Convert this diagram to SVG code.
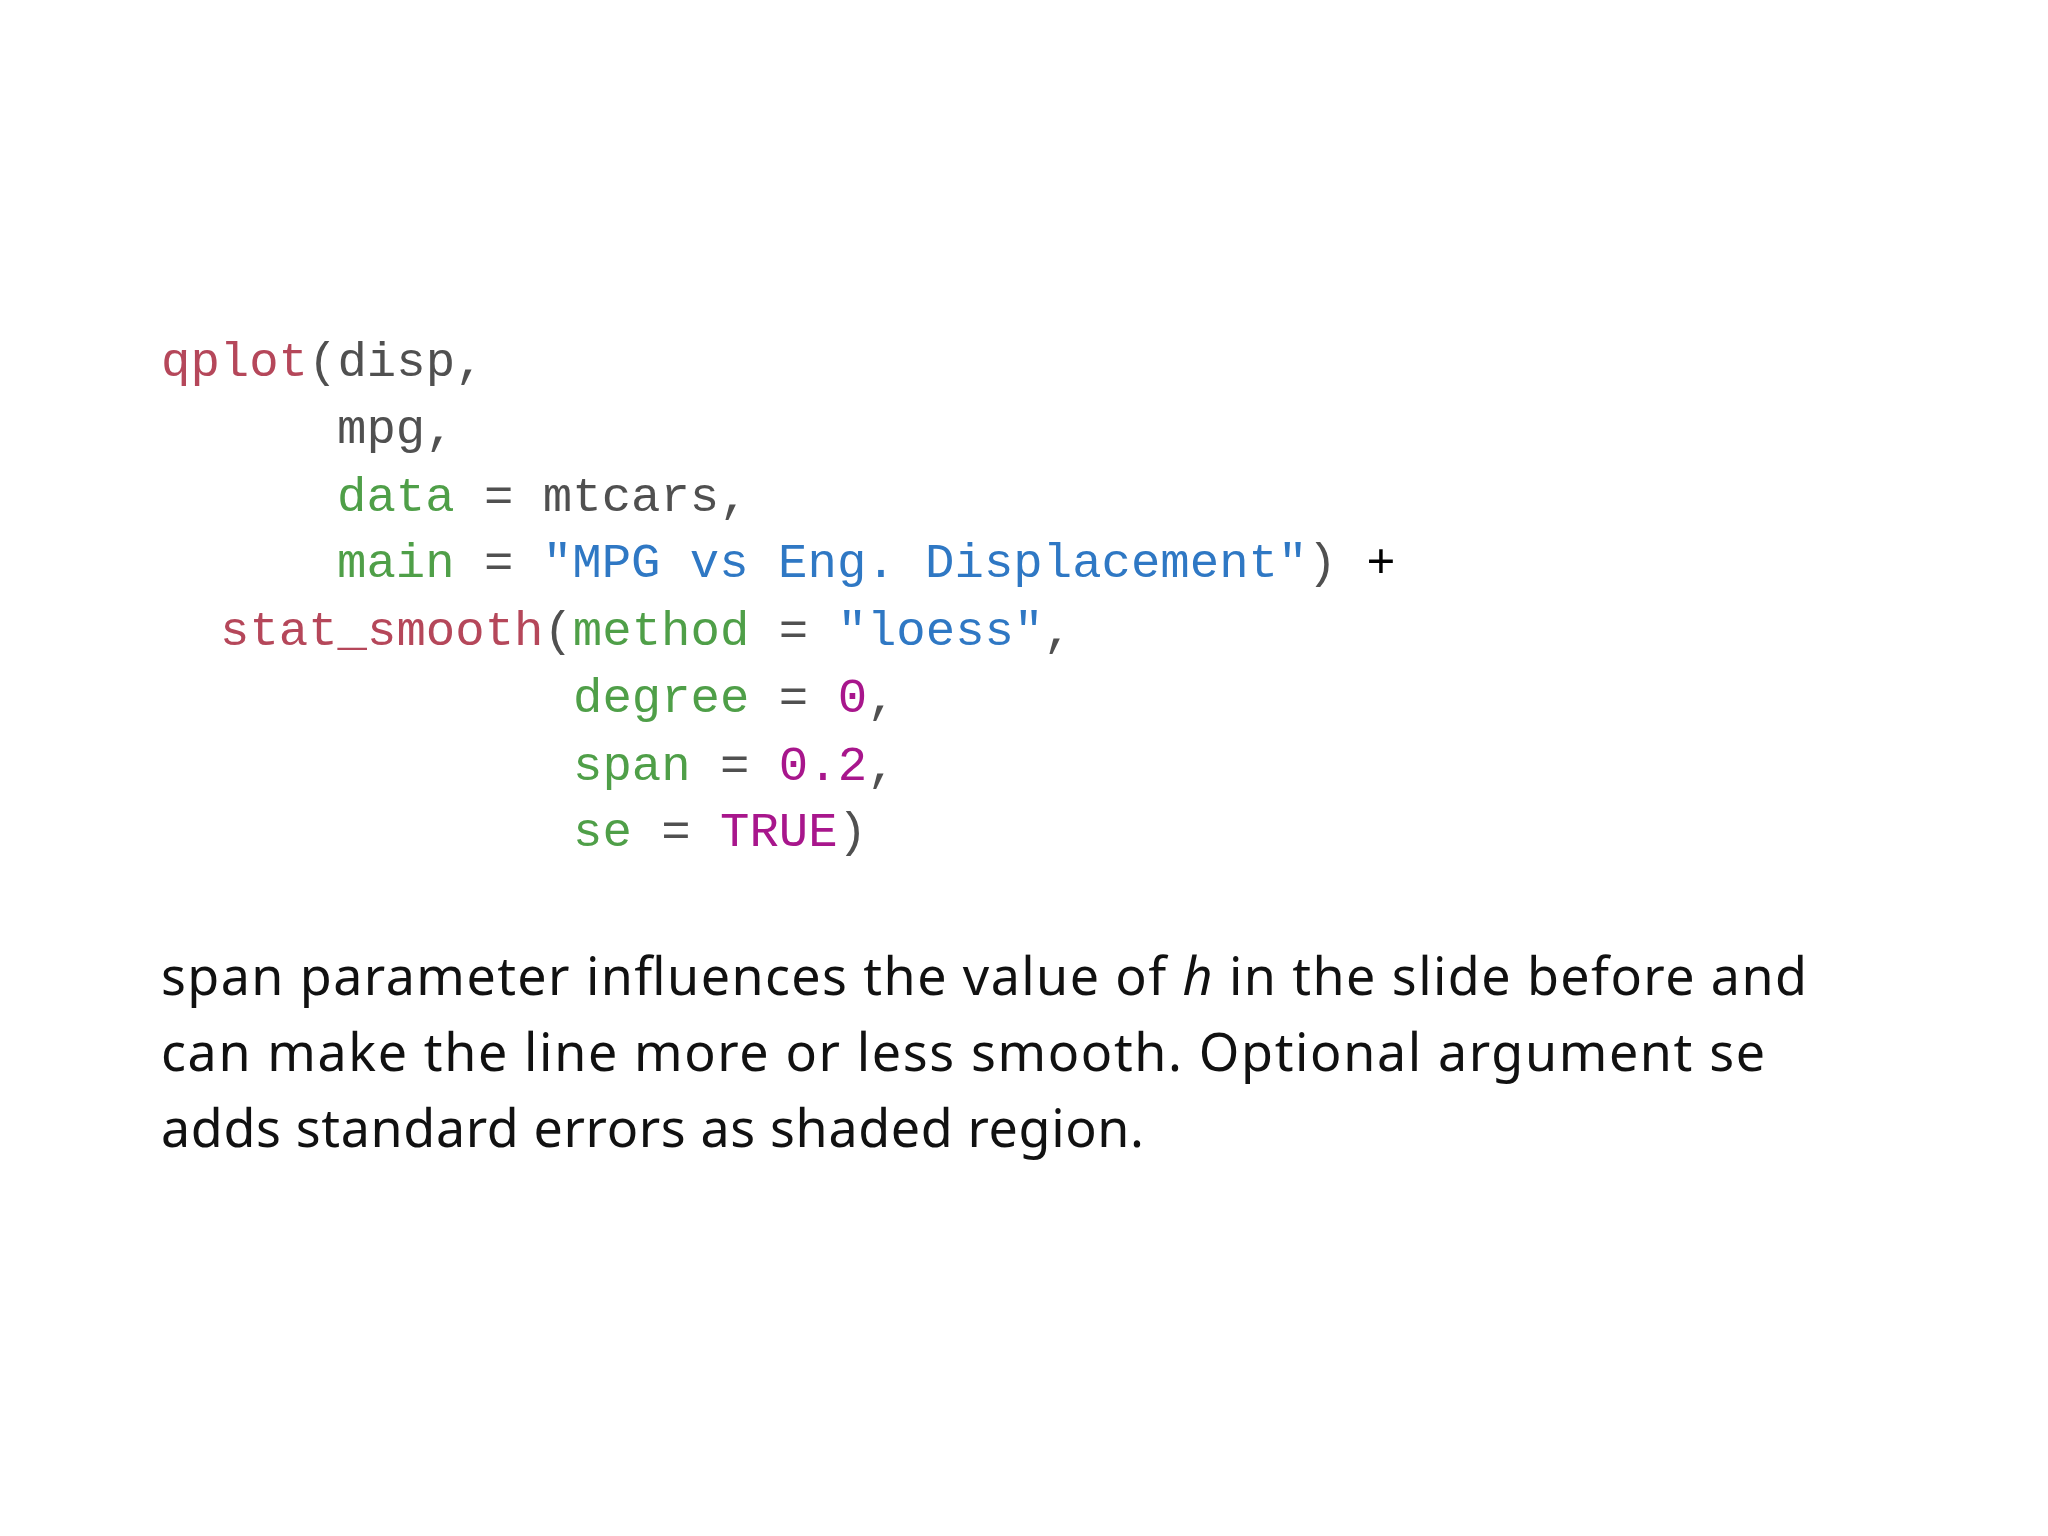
<svg xmlns="http://www.w3.org/2000/svg" width="2048" height="1536" viewBox="0 0 2048 1536">
<style>
.c{font-family:"Liberation Mono",monospace;font-size:49px}
.f{fill:#b5475a}.d{fill:#505050}.a{fill:#4f9f48}.s{fill:#2f78c4}.n{fill:#a8168c}.k{fill:#000}
.t{font-family:"Noto Sans","Liberation Sans",sans-serif;font-size:52px;fill:#111}
</style>
<rect width="2048" height="1536" fill="#fff"/>
<g id="code" class="c" xml:space="preserve">
<text x="161" y="376"><tspan class="f">qplot</tspan><tspan class="d">(disp,</tspan></text>
<text x="337" y="443"><tspan class="d">mpg,</tspan></text>
<text x="337" y="511"><tspan class="a">data</tspan><tspan class="d"> = mtcars,</tspan></text>
<text x="337" y="577"><tspan class="a">main</tspan><tspan class="d"> = </tspan><tspan class="s">"MPG vs Eng. Displacement"</tspan><tspan class="d">)</tspan><tspan class="k"> +</tspan></text>
<text x="220" y="645"><tspan class="f">stat_smooth</tspan><tspan class="d">(</tspan><tspan class="a">method</tspan><tspan class="d"> = </tspan><tspan class="s">"loess"</tspan><tspan class="d">,</tspan></text>
<text x="573" y="712"><tspan class="a">degree</tspan><tspan class="d"> = </tspan><tspan class="n">0</tspan><tspan class="d">,</tspan></text>
<text x="573" y="780"><tspan class="a">span</tspan><tspan class="d"> = </tspan><tspan class="n">0.2</tspan><tspan class="d">,</tspan></text>
<text x="573" y="846"><tspan class="a">se</tspan><tspan class="d"> = </tspan><tspan class="n">TRUE</tspan><tspan class="d">)</tspan></text>
</g>
<g id="para" class="t">
<text x="161" y="995" textLength="1646">span parameter influences the value of <tspan font-style="italic">h</tspan> in the slide before and</text>
<text x="161" y="1071" textLength="1604">can make the line more or less smooth.  Optional argument se</text>
<text x="161" y="1147" textLength="983">adds standard errors as shaded region.</text>
</g>
</svg>
